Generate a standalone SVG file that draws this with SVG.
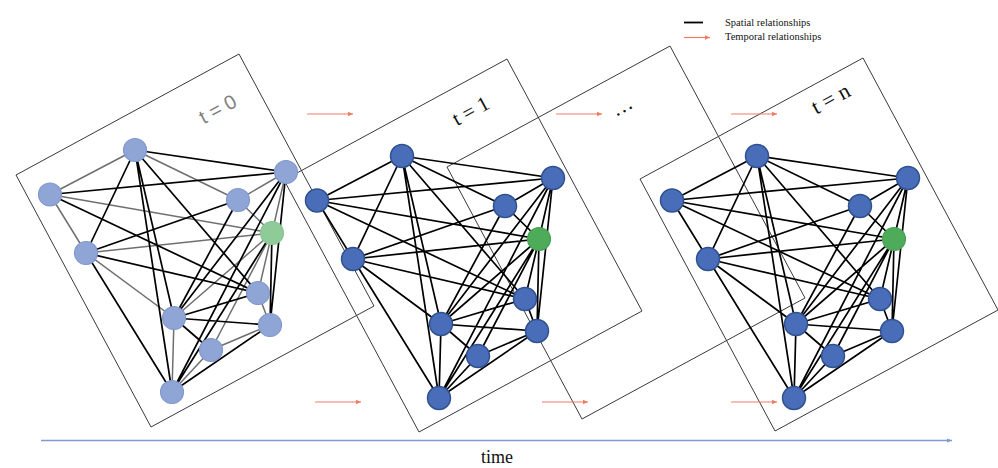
<svg xmlns="http://www.w3.org/2000/svg" width="998" height="468" viewBox="0 0 998 468">
  <defs>
    <marker id="redHead" markerWidth="6" markerHeight="6" refX="5" refY="3" orient="auto" markerUnits="userSpaceOnUse">
      <path d="M0,0.8 L5,3 L0,5.2 Z" fill="#f07d62"/>
    </marker>
    <marker id="blueHead" markerWidth="6" markerHeight="6" refX="5" refY="3" orient="auto" markerUnits="userSpaceOnUse">
      <path d="M0,1 L5,3 L0,5 Z" fill="#7f9bd0"/>
    </marker>
  </defs>
  <style>
    .frame { fill: none; stroke: #3a3a3a; stroke-width: 1; }
    .e { fill: none; stroke: #000; stroke-width: 1.7; }
    .g { fill: none; stroke: #6f6f6f; stroke-width: 1.5; }
    .n0 { fill: #8fa5d6; stroke: #8298cc; stroke-width: 1.2; }
    .n0g { fill: #8fcb99; stroke: #88c391; stroke-width: 1.2; }
    .n1 { fill: #4a6db9; stroke: #2f528f; stroke-width: 1.5; }
    .n1g { fill: #4dab5a; stroke: #46a052; stroke-width: 1.2; }
    .red { stroke: #f07d62; stroke-width: 1.2; fill: none; marker-end: url(#redHead); }
    .serif { font-family: "Liberation Serif", "DejaVu Serif", serif; }
    .sans { font-family: "Liberation Sans", "DejaVu Sans", sans-serif; }
  </style>

  <!-- rotated snapshot frames -->
  <g id="frames">
    <polygon id="frame-t0" class="frame" points="16,175 239,54 374,306 151,427"/>
    <polygon id="frame-t1" class="frame" points="284,180 507,59 642,311 419,432"/>
    <polygon id="frame-mid" class="frame" points="447,167 670,46 805,298 582,419"/>
    <polygon id="frame-tn" class="frame" points="640,179 863,58 998,310 775,431"/>
  </g>

  <!-- spatial edges of each snapshot -->
  <g id="connectors">
    <g id="edges-t0" transform="translate(0,0)">
      <path class="g" d="M135 150L50 194.5 M135 150L238 200 M50 194.5L272 233 M50 194.5L86 253 M286 172L238 200 M286 172L272 233 M238 200L272 233 M86 253L272 233 M86 253L174 318 M272 233L258 293 M272 233L174 318 M272 233L211 350 M258 293L270 325 M174 318L172 392 M211 350L270 325 M172 392L211 350"/>
      <path class="e" d="M135 150L286 172 M135 150L86 253 M135 150L174 318 M135 150L172 392 M135 150L258 293 M50 194.5L286 172 M50 194.5L258 293 M286 172L270 325 M286 172L174 318 M286 172L172 392 M238 200L86 253 M238 200L174 318 M86 253L258 293 M86 253L172 392 M272 233L270 325 M272 233L172 392 M258 293L174 318 M174 318L270 325 M174 318L211 350 M172 392L270 325"/>
    </g>
    <g id="edges-t1" transform="translate(267,6)">
      <path class="e" d="M135 150L50 194.5 M135 150L238 200 M50 194.5L272 233 M50 194.5L86 253 M286 172L238 200 M286 172L272 233 M238 200L272 233 M86 253L272 233 M86 253L174 318 M272 233L258 293 M272 233L174 318 M272 233L211 350 M258 293L270 325 M174 318L172 392 M211 350L270 325 M172 392L211 350 M135 150L286 172 M135 150L86 253 M135 150L174 318 M135 150L172 392 M135 150L258 293 M50 194.5L286 172 M50 194.5L258 293 M286 172L270 325 M286 172L174 318 M286 172L172 392 M238 200L86 253 M238 200L174 318 M86 253L258 293 M86 253L172 392 M272 233L270 325 M272 233L172 392 M258 293L174 318 M174 318L270 325 M174 318L211 350 M172 392L270 325"/>
    </g>
    <g id="edges-tn" transform="translate(622,6)">
      <path class="e" d="M135 150L50 194.5 M135 150L238 200 M50 194.5L272 233 M50 194.5L86 253 M286 172L238 200 M286 172L272 233 M238 200L272 233 M86 253L272 233 M86 253L174 318 M272 233L258 293 M272 233L174 318 M272 233L211 350 M258 293L270 325 M174 318L172 392 M211 350L270 325 M172 392L211 350 M135 150L286 172 M135 150L86 253 M135 150L174 318 M135 150L172 392 M135 150L258 293 M50 194.5L286 172 M50 194.5L258 293 M286 172L270 325 M286 172L174 318 M286 172L172 392 M238 200L86 253 M238 200L174 318 M86 253L258 293 M86 253L172 392 M272 233L270 325 M272 233L172 392 M258 293L174 318 M174 318L270 325 M174 318L211 350 M172 392L270 325"/>
    </g>
  </g>

  <!-- snapshot t = 0 -->
  <g id="graph-t0">
    <g id="t0-a"><circle class="n0" cx="135" cy="150" r="11.5"/></g>
    <g id="t0-b"><circle class="n0" cx="50" cy="194.5" r="11.5"/></g>
    <g id="t0-c"><circle class="n0" cx="286" cy="172" r="11.5"/></g>
    <g id="t0-d"><circle class="n0" cx="238" cy="200" r="11.5"/></g>
    <g id="t0-g"><circle class="n0g" cx="272" cy="233" r="11.5"/></g>
    <g id="t0-e"><circle class="n0" cx="86" cy="253" r="11.5"/></g>
    <g id="t0-f"><circle class="n0" cx="258" cy="293" r="11.5"/></g>
    <g id="t0-h"><circle class="n0" cx="174" cy="318" r="11.5"/></g>
    <g id="t0-i"><circle class="n0" cx="270" cy="325" r="11.5"/></g>
    <g id="t0-j"><circle class="n0" cx="211" cy="350" r="11.5"/></g>
    <g id="t0-k"><circle class="n0" cx="172" cy="392" r="11.5"/></g>
  </g>

  <!-- snapshot t = 1 -->
  <g id="graph-t1" transform="translate(267,6)">
    <g id="t1-a"><circle class="n1" cx="135" cy="150" r="11.5"/></g>
    <g id="t1-b"><circle class="n1" cx="50" cy="194.5" r="11.5"/></g>
    <g id="t1-c"><circle class="n1" cx="286" cy="172" r="11.5"/></g>
    <g id="t1-d"><circle class="n1" cx="238" cy="200" r="11.5"/></g>
    <g id="t1-g"><circle class="n1g" cx="272" cy="233" r="11.5"/></g>
    <g id="t1-e"><circle class="n1" cx="86" cy="253" r="11.5"/></g>
    <g id="t1-f"><circle class="n1" cx="258" cy="293" r="11.5"/></g>
    <g id="t1-h"><circle class="n1" cx="174" cy="318" r="11.5"/></g>
    <g id="t1-i"><circle class="n1" cx="270" cy="325" r="11.5"/></g>
    <g id="t1-j"><circle class="n1" cx="211" cy="350" r="11.5"/></g>
    <g id="t1-k"><circle class="n1" cx="172" cy="392" r="11.5"/></g>
  </g>

  <!-- snapshot t = n -->
  <g id="graph-tn" transform="translate(622,6)">
    <g id="tn-a"><circle class="n1" cx="135" cy="150" r="11.5"/></g>
    <g id="tn-b"><circle class="n1" cx="50" cy="194.5" r="11.5"/></g>
    <g id="tn-c"><circle class="n1" cx="286" cy="172" r="11.5"/></g>
    <g id="tn-d"><circle class="n1" cx="238" cy="200" r="11.5"/></g>
    <g id="tn-g"><circle class="n1g" cx="272" cy="233" r="11.5"/></g>
    <g id="tn-e"><circle class="n1" cx="86" cy="253" r="11.5"/></g>
    <g id="tn-f"><circle class="n1" cx="258" cy="293" r="11.5"/></g>
    <g id="tn-h"><circle class="n1" cx="174" cy="318" r="11.5"/></g>
    <g id="tn-i"><circle class="n1" cx="270" cy="325" r="11.5"/></g>
    <g id="tn-j"><circle class="n1" cx="211" cy="350" r="11.5"/></g>
    <g id="tn-k"><circle class="n1" cx="172" cy="392" r="11.5"/></g>
  </g>

  <!-- frame labels -->
  <g id="labels">
    <text class="sans" x="0" y="0" font-size="20" fill="#7f7f7f" text-anchor="middle" transform="translate(221,115) rotate(-28.5)">t = 0</text>
    <text class="serif" x="0" y="0" font-size="21" fill="#111" text-anchor="middle" transform="translate(474,117) rotate(-28.5)">t = 1</text>
    <text class="serif" x="0" y="0" font-size="21" fill="#111" text-anchor="middle" transform="translate(625,112) rotate(-28.5)">…</text>
    <text class="serif" x="0" y="0" font-size="22" fill="#111" text-anchor="middle" transform="translate(834,105) rotate(-28.5)">t = n</text>
  </g>

  <!-- temporal arrows -->
  <g id="temporal">
    <line class="red" x1="307" y1="114" x2="353" y2="114"/>
    <line class="red" x1="556" y1="114" x2="602" y2="114"/>
    <line class="red" x1="731" y1="114" x2="777" y2="114"/>
    <line class="red" x1="315" y1="402" x2="361" y2="402"/>
    <line class="red" x1="542" y1="402" x2="588" y2="402"/>
    <line class="red" x1="731" y1="402" x2="777" y2="402"/>
  </g>

  <!-- time axis -->
  <g id="time-axis">
    <line x1="41" y1="440.5" x2="952" y2="440.5" stroke="#7f9bd0" stroke-width="1.3" marker-end="url(#blueHead)"/>
    <text class="serif" x="497" y="463" font-size="18" fill="#111" text-anchor="middle">time</text>
  </g>

  <!-- legend -->
  <g id="legend">
    <line x1="684" y1="22.5" x2="703" y2="22.5" stroke="#000" stroke-width="1.8"/>
    <line class="red" x1="684" y1="37.5" x2="710" y2="37.5"/>
    <text class="serif" x="725" y="25.5" font-size="10.5" fill="#111">Spatial relationships</text>
    <text class="serif" x="725" y="40" font-size="10.5" fill="#111">Temporal relationships</text>
  </g>
</svg>
